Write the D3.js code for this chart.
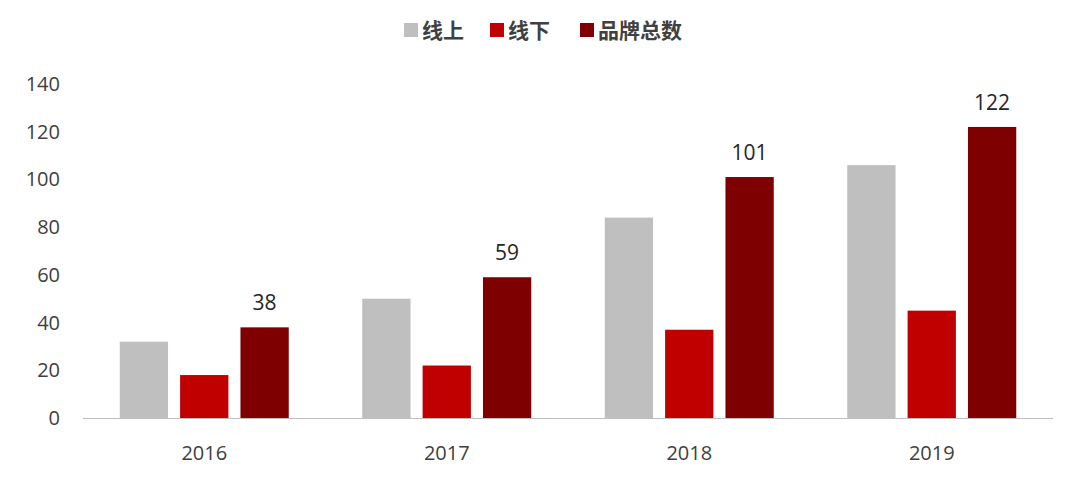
<!DOCTYPE html>
<html><head><meta charset="utf-8">
<script src="https://cdn.jsdelivr.net/npm/d3@7"></script>
<style>body{margin:0;background:#fff;font-family:"Open Sans","Noto Sans CJK SC",sans-serif;}</style>
</head><body>
<script>
var years = ['2016', '2017', '2018', '2019'];
var seriesNames = ['线上', '线下', '品牌总数'];
var online = [32, 50, 84, 106];
var offline = [18, 22, 37, 45];
var total = [38, 59, 101, 122];
var yTicks = [0, 20, 40, 60, 80, 100, 120, 140];
var colors = ['#bfbfbf', '#c00000', '#7f0000'];

var W = 1080, H = 482;
var svg = d3.select('body').append('svg').attr('width', W).attr('height', H);

var groupW = 169;
var x = d3.scaleBand().domain(years).range([83, 1053]);
var sub = d3.scaleBand().domain([0, 1, 2]).range([0, groupW]).paddingInner(0.2);
var y = d3.scaleLinear().domain([0, 140]).range([418, 84]);

// y tick labels
svg.append('g').selectAll('text').data(yTicks).enter().append('text')
    .attr('x', 60).attr('y', function (d) { return y(d) + 7; })
    .attr('text-anchor', 'end').attr('font-size', 20).attr('fill', '#404040')
    .text(function (d) { return d; });

var data = [online, offline, total];
years.forEach(function (yr, i) {
    var x0 = x(yr) + (x.bandwidth() - groupW) / 2;
    data.forEach(function (s, k) {
        svg.append('rect')
            .attr('x', x0 + sub(k)).attr('width', sub.bandwidth())
            .attr('y', y(s[i])).attr('height', y(0) - y(s[i]))
            .attr('fill', colors[k]);
    });
    svg.append('text')
        .attr('x', x0 + sub(2) + sub.bandwidth() / 2).attr('y', y(total[i]) - 17)
        .attr('text-anchor', 'middle').attr('font-size', 21).attr('fill', '#262626')
        .text(total[i]);
});

// x axis
svg.append('line').attr('x1', 83).attr('x2', 1053).attr('y1', 418.5).attr('y2', 418.5)
    .attr('stroke', '#bfbfbf');
svg.append('g').selectAll('text').data(years).enter().append('text')
    .attr('x', function (d) { return x(d) + x.bandwidth() / 2; }).attr('y', 460)
    .attr('text-anchor', 'middle').attr('font-size', 20).attr('fill', '#404040')
    .text(function (d) { return d; });

// legend
var lx = [404, 490, 580];
seriesNames.forEach(function (n, k) {
    svg.append('rect').attr('x', lx[k]).attr('y', 23).attr('width', 14).attr('height', 14).attr('fill', colors[k]);
    svg.append('text').attr('x', lx[k] + 18).attr('y', 38).attr('font-size', 21)
        .attr('font-weight', 'bold').attr('fill', '#404040').text(n);
});
</script>
</body></html>
